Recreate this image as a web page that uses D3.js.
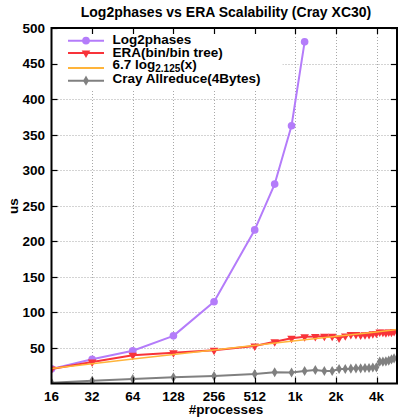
<!DOCTYPE html>
<html>
<head>
<meta charset="utf-8">
<script src="https://cdn.jsdelivr.net/npm/d3@7"></script>
<style>
  body { margin: 0; background: #fff; }
  text { font-family: "Liberation Sans", Arial, sans-serif; font-weight: bold; fill: #000; }
</style>
</head>
<body>
<svg id="chart" width="398" height="420"></svg>
<script>
// Values.
var X_TICKS       = [16, 32, 64, 128, 256, 512, 1024, 2048, 4096];
var X_TICK_LABELS = ["16", "32", "64", "128", "256", "512", "1k", "2k", "4k"];
var Y_TICKS       = [50, 100, 150, 200, 250, 300, 350, 400, 450, 500];

var log2phases_procs = [16, 32, 64, 128, 256, 512, 720, 960, 1200];
var log2phases_us    = [20.5, 34, 46, 67, 115, 216, 280.5, 362.5, 480.5];

var dense_procs = [16, 32, 64, 128, 256, 512, 720, 960, 1200, 1440, 1680, 1920, 2160, 2400,
                   2640, 2880, 3120, 3360, 3600, 3840, 4080, 4320, 4560, 4800, 5040, 5280, 5520];
var era_us      = [20.5, 30.2, 39.7, 43.3, 46.7, 52.7, 58.8, 63.6, 65.8, 66, 66.5, 66.5, 64, 67,
                   69, 69, 68, 68.5, 69, 70, 70.5, 72.5, 72, 71.5, 72.5, 72, 73];
var cray_us     = [1.1, 3.9, 6.3, 8.7, 10.5, 13.4, 15.8, 15.5, 17.6, 19, 17.6, 17.6, 20.4, 20.4,
                   20.8, 21.4, 21.4, 21.8, 21.8, 22.5, 22.8, 30.7, 30.7, 31.2, 32.3, 33.8, 35.4];

var fit_procs = [16, 64, 256, 1024, 4096, 5800];
var fit_us    = [21, 34.5, 47, 60, 72.5, 75.8];

var COL_L2P  = "#b47cfa";
var COL_ERA  = "#f8333a";
var COL_FIT  = "#ffb43a";
var COL_CRAY = "#808080";

var svg = d3.select("#chart");

var P_LEFT = 51.5, P_RIGHT = 397, P_TOP = 28, P_BOTTOM = 383.5;

var x = d3.scaleLog().base(2).domain([16, 5800]).range([P_LEFT, P_RIGHT]);
var y = d3.scaleLinear().domain([0, 500]).range([P_BOTTOM, P_TOP]);

// Grid (dotted)
var grid = svg.append("g").attr("stroke", "#a8a8a8").attr("stroke-width", 1)
              .attr("stroke-dasharray", "1,2");
grid.selectAll("line.gx").data(X_TICKS.slice(1)).enter().append("line")
    .attr("x1", function (d) { return Math.round(x(d)) + 0.5; })
    .attr("x2", function (d) { return Math.round(x(d)) + 0.5; })
    .attr("y1", P_TOP).attr("y2", P_BOTTOM);
grid.selectAll("line.gy").data(Y_TICKS.slice(0, -1)).enter().append("line")
    .attr("x1", P_LEFT).attr("x2", P_RIGHT)
    .attr("y1", function (d) { return Math.round(y(d)) + 0.5; })
    .attr("y2", function (d) { return Math.round(y(d)) + 0.5; });

// Legend background hides the grid under it
svg.append("rect").attr("x", P_LEFT + 1).attr("y", P_TOP + 1)
   .attr("width", 230).attr("height", 60).attr("fill", "#fff");

// Data
svg.append("clipPath").attr("id", "plot-clip").append("rect")
   .attr("x", P_LEFT).attr("y", P_TOP - 6).attr("width", P_RIGHT - P_LEFT).attr("height", P_BOTTOM - P_TOP + 6);
var plot = svg.append("g").attr("clip-path", "url(#plot-clip)");

function draw_series(procs, vals, color, width) {
  var line = d3.line()
    .x(function (d, i) { return x(procs[i]); })
    .y(function (d) { return y(d); });
  plot.append("path").datum(vals)
      .attr("d", line).attr("fill", "none")
      .attr("stroke", color).attr("stroke-width", width)
      .attr("stroke-linejoin", "round");
}

var sym_circle   = d3.symbol().type(d3.symbolCircle).size(46);
var sym_triangle = d3.symbol().type(d3.symbolTriangle).size(32);
var sym_diamond  = d3.symbol().type(d3.symbolDiamond).size(30);

function draw_marks(procs, vals, color, sym, flip) {
  plot.append("g").selectAll("path").data(vals).enter().append("path")
      .attr("d", sym)
      .attr("fill", color)
      .attr("transform", function (d, i) {
        return "translate(" + x(procs[i]) + "," + y(d) + ")" + (flip ? " rotate(180)" : "");
      });
}

draw_series(dense_procs, cray_us, COL_CRAY, 2);
draw_marks(dense_procs, cray_us, COL_CRAY, sym_diamond, false);
draw_series(log2phases_procs, log2phases_us, COL_L2P, 2);
draw_marks(log2phases_procs, log2phases_us, COL_L2P, sym_circle, false);
draw_series(dense_procs, era_us, COL_ERA, 2);
draw_marks(dense_procs, era_us, COL_ERA, sym_triangle, true);
draw_series(fit_procs, fit_us, COL_FIT, 1.5);

// Ticks (inside, mirrored)
var ticks = svg.append("g").attr("stroke", "#000").attr("stroke-width", 1.2);
X_TICKS.slice(1).forEach(function (t) {
  var xx = Math.round(x(t)) + 0.5;
  ticks.append("line").attr("x1", xx).attr("x2", xx).attr("y1", P_BOTTOM).attr("y2", P_BOTTOM - 6);
  ticks.append("line").attr("x1", xx).attr("x2", xx).attr("y1", P_TOP).attr("y2", P_TOP + 6);
});
Y_TICKS.forEach(function (t) {
  var yy = Math.round(y(t)) + 0.5;
  ticks.append("line").attr("x1", P_LEFT).attr("x2", P_LEFT + 6).attr("y1", yy).attr("y2", yy);
  ticks.append("line").attr("x1", P_RIGHT).attr("x2", P_RIGHT - 6).attr("y1", yy).attr("y2", yy);
});

// Border
svg.append("rect").attr("x", P_LEFT).attr("y", P_TOP)
   .attr("width", P_RIGHT - P_LEFT).attr("height", P_BOTTOM - P_TOP)
   .attr("fill", "none").attr("stroke", "#000").attr("stroke-width", 2);

// Tick labels
svg.append("g").selectAll("text").data(X_TICKS).enter().append("text")
   .attr("x", function (d) { return x(d); })
   .attr("y", 400.5)
   .attr("text-anchor", "middle")
   .attr("font-size", "13.5px")
   .text(function (d, i) { return X_TICK_LABELS[i]; });

svg.append("g").selectAll("text").data(Y_TICKS).enter().append("text")
   .attr("x", 45)
   .attr("y", function (d) { return y(d); })
   .attr("dy", "0.36em")
   .attr("text-anchor", "end")
   .attr("font-size", "13.5px")
   .text(function (d) { return d; });

// Titles
svg.append("text").attr("x", 226).attr("y", 17).attr("text-anchor", "middle")
   .attr("font-size", "14px").text("Log2phases vs ERA Scalability (Cray XC30)");
svg.append("text").attr("x", 226).attr("y", 414).attr("text-anchor", "middle")
   .attr("font-size", "13.5px").text("#processes");
svg.append("text").attr("transform", "translate(18,206) rotate(-90)")
   .attr("text-anchor", "middle").attr("font-size", "13.5px").text("us");

// Legend
var legend = [
  { label: "Log2phases",             color: COL_L2P,  sym: sym_circle,   flip: false, ly: 40.7, ty: 43.5 },
  { label: "ERA(bin/bin tree)",      color: COL_ERA,  sym: sym_triangle, flip: true,  ly: 53,   ty: 56.5 },
  { label: "6.7 log",                color: COL_FIT,  sym: null,         flip: false, ly: 68,   ty: 69 },
  { label: "Cray Allreduce(4Bytes)", color: COL_CRAY, sym: sym_diamond,  flip: false, ly: 80.7, ty: 82.5 }
];

legend.forEach(function (d) {
  svg.append("line").attr("x1", 68).attr("x2", 104).attr("y1", d.ly).attr("y2", d.ly)
     .attr("stroke", d.color).attr("stroke-width", 2);
  if (d.sym) {
    svg.append("path").attr("d", d.sym).attr("fill", d.color)
       .attr("transform", "translate(86," + d.ly + ")" + (d.flip ? " rotate(180)" : ""));
  }
  var t = svg.append("text").attr("x", 112.5).attr("y", d.ty).attr("font-size", "13.5px").text(d.label);
  if (d.sym === null) {
    t.append("tspan").attr("font-size", "10px").attr("dy", 3).text("2.125");
    t.append("tspan").attr("dy", -3).text("(x)");
  }
});
</script>
</body>
</html>
